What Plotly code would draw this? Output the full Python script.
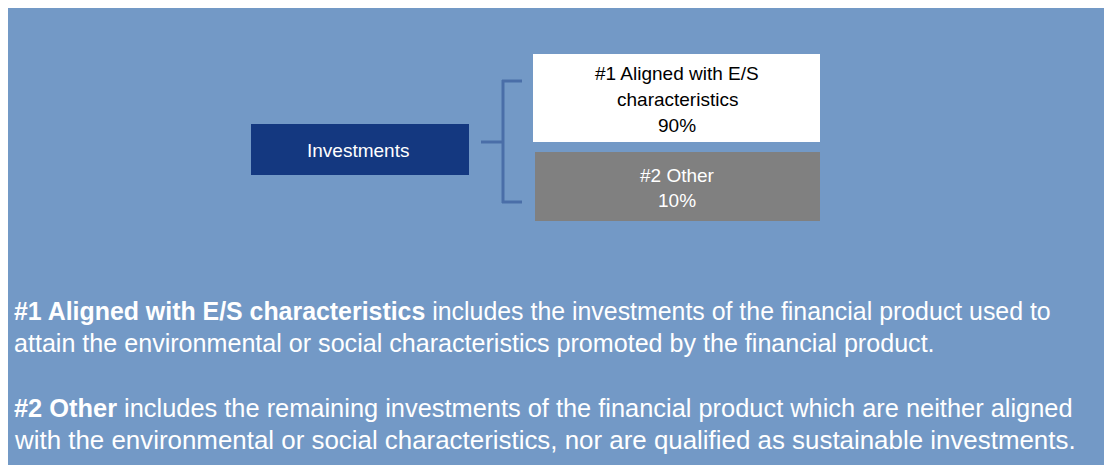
import plotly.graph_objects as go

# ---- data ----
root_label = "Investments"
branch_labels = ["#1 Aligned with E/S<br>characteristics", "#2 Other"]
branch_shares = [90, 10]
branch_fill = ["#FFFFFF", "#808080"]
branch_text_color = ["#000000", "#FFFFFF"]

desc_titles = ["#1 Aligned with E/S characteristics", "#2 Other"]
desc_lines = [
    [" includes the investments of the financial product used to",
     "attain the environmental or social characteristics promoted by the financial product."],
    [" includes the remaining investments of the financial product which are neither aligned",
     "with the environmental or social characteristics, nor are qualified as sustainable investments."],
]

W, H = 1112, 465
OFF = 8  # page body margin; axes map straight to page pixels
BG = "#7399C6"
NAVY = "#143880"
BRACKET = "#4A6EA8"
FONT = "Liberation Sans, Arial, sans-serif"

fig = go.Figure()
shapes = []
annotations = []

# background panel
shapes.append(dict(type="rect", x0=0, x1=W + 5, y0=5, y1=H + 5, fillcolor=BG, line_width=0, layer="below"))

# root box
shapes.append(dict(type="rect", x0=251, x1=469, y0=124, y1=175, fillcolor=NAVY, line_width=0))
annotations.append(dict(x=358, y=150, text=root_label, showarrow=False,
                        font=dict(family=FONT, size=19, color="white"),
                        xanchor="center", yanchor="middle"))

# bracket
bw = 3
shapes += [
    dict(type="line", x0=481, x1=503, y0=142, y1=142, line=dict(color=BRACKET, width=bw)),
    dict(type="line", x0=503, x1=503, y0=80, y1=203, line=dict(color=BRACKET, width=bw)),
    dict(type="line", x0=502, x1=522, y0=81, y1=81, line=dict(color=BRACKET, width=bw)),
    dict(type="line", x0=502, x1=522, y0=202, y1=202, line=dict(color=BRACKET, width=bw)),
]

# branch boxes
boxes = [(533, 820, 54, 142), (535, 820, 152, 221)]
box_line_y = [[73, 99, 125], [175, 200]]
for (x0, x1, y0, y1), ys, lab, sh, fc, tc in zip(boxes, box_line_y, branch_labels, branch_shares,
                                                branch_fill, branch_text_color):
    shapes.append(dict(type="rect", x0=x0, x1=x1, y0=y0, y1=y1, fillcolor=fc, line_width=0))
    parts = lab.split("<br>") + [f"{sh}%"]
    for t, yy in zip(parts, ys):
        annotations.append(dict(x=677, y=yy, text=t, showarrow=False,
                                font=dict(family=FONT, size=19, color=tc),
                                xanchor="center", yanchor="middle"))

# descriptions
line_y = [[311, 343], [408, 440]]
line_size = [[24.9, 25.1], [25.4, 25.9]]
for title, lines, ys, sz in zip(desc_titles, desc_lines, line_y, line_size):
    annotations.append(dict(x=12, y=ys[0], text=f"<b>{title}</b>{lines[0]}", showarrow=False,
                            font=dict(family=FONT, size=sz[0], color="white"),
                            xanchor="left", yanchor="middle"))
    annotations.append(dict(x=12, y=ys[1], text=lines[1], showarrow=False,
                            font=dict(family=FONT, size=sz[1], color="white"),
                            xanchor="left", yanchor="middle"))

fig.update_layout(
    width=W - OFF, height=H - OFF,
    margin=dict(l=0, r=0, t=0, b=0),
    paper_bgcolor=BG, plot_bgcolor=BG,
    xaxis=dict(range=[OFF, W], visible=False, fixedrange=True),
    yaxis=dict(range=[H, OFF], visible=False, fixedrange=True),
    shapes=shapes, annotations=annotations, showlegend=False,
)
fig.write_html("out.html", config={"displayModeBar": False})
